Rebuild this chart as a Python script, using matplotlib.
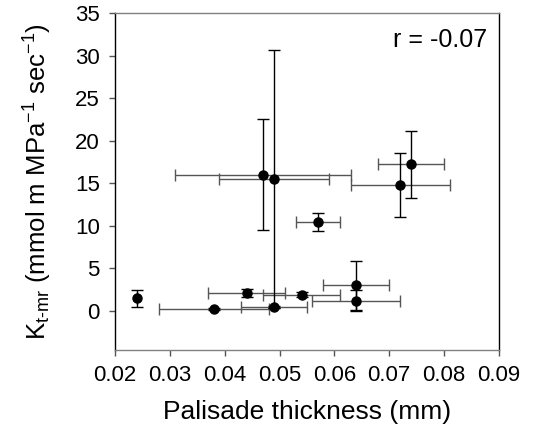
import matplotlib
matplotlib.use("Agg")
import matplotlib.pyplot as plt

plt.rcParams['font.family'] = ['Liberation Sans', 'DejaVu Sans']
plt.rcParams['mathtext.fontset'] = 'custom'
plt.rcParams['mathtext.rm'] = 'Liberation Sans'
plt.rcParams['mathtext.default'] = 'regular'

# palisade thickness (mm) and K t-mr, with error bars
thickness = [0.047, 0.049, 0.074, 0.072, 0.057, 0.064, 0.064, 0.054, 0.044, 0.024, 0.038, 0.049]
kt = [16.0, 15.5, 17.2, 14.8, 10.4, 3.0, 1.2, 1.9, 2.1, 1.45, 0.2, 0.4]
thick_err = [0.016, 0.010, 0.006, 0.009, 0.004, 0.006, 0.008, 0.007, 0.007, 0.0, 0.010, 0.006]
kt_err = [6.5, 15.2, 3.9, 3.8, 1.05, 2.9, 1.2, 0.3, 0.5, 1.0, 0.1, 0.1]
r_text = "r = -0.07"

fig = plt.figure(figsize=(5.33, 4.48), dpi=100)
ax = fig.add_axes([0.216, 0.219, 0.72, 0.752])

# horizontal bars grey, vertical bars black
ax.errorbar(thickness, kt, xerr=thick_err, fmt='none', ecolor='#555555',
            elinewidth=1.0, capsize=4, capthick=1.0)
ax.errorbar(thickness, kt, yerr=kt_err, fmt='none', ecolor='black',
            elinewidth=1.0, capsize=4, capthick=1.0)
ax.plot(thickness, kt, 'o', color='black', markersize=6.5, zorder=5)

ax.set_xlim(0.02, 0.09)
ax.set_ylim(-4.6, 35)
ax.set_xticks([0.02, 0.03, 0.04, 0.05, 0.06, 0.07, 0.08, 0.09])
ax.set_xticklabels(['0.02', '0.03', '0.04', '0.05', '0.06', '0.07', '0.08', '0.09'])
ax.set_yticks(range(0, 36, 5))
ax.tick_params(axis='both', direction='out', length=4, width=1, colors='#555555',
               labelcolor='black', labelsize=16, pad=7)

ax.spines['top'].set_color('#808080')
ax.spines['bottom'].set_color('#808080')
ax.spines['left'].set_color('black')
ax.spines['right'].set_color('black')
for s in ax.spines.values():
    s.set_linewidth(1.0)

ax.set_xlabel('Palisade thickness (mm)', fontsize=19, labelpad=10)
ax.set_ylabel(r'K$_{t\text{-}mr}$ (mmol m MPa$^{-1}$ sec$^{-1}$)', fontsize=18.5, labelpad=15)
ax.text(0.97, 0.955, r_text, transform=ax.transAxes, ha='right', va='top', fontsize=18)

fig.savefig('out.png', dpi=100)
